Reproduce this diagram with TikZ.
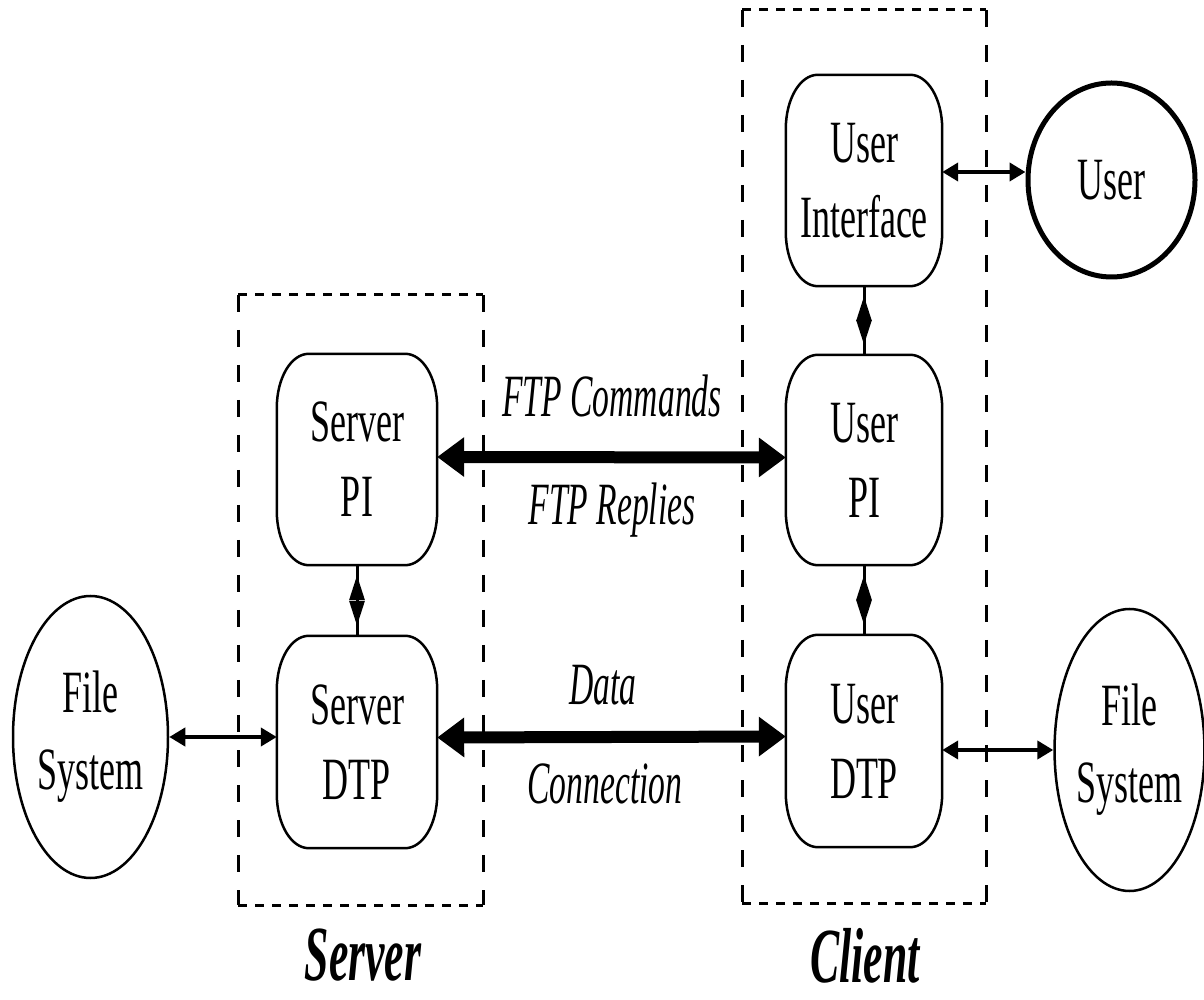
\documentclass[tikz,border=0pt]{standalone}
\usepackage{fontspec}
\usetikzlibrary{arrows.meta,calc,shapes.geometric}
\newfontfamily\nodefont[FakeStretch=0.6]{Liberation Serif}
\newfontfamily\labfont[FakeStretch=0.56]{Liberation Serif}
\newfontfamily\bigfont[FakeStretch=0.56]{Liberation Serif}
\newcommand\ftpshape[1]{%
  \draw[boxline] ($(#1.north west)+(32,0)$) -- ($(#1.north east)+(-32,0)$)
    arc[start angle=90,end angle=0,x radius=32,y radius=54]
    -- ($(#1.south east)+(0,54)$)
    arc[start angle=0,end angle=-90,x radius=32,y radius=54]
    -- ($(#1.south west)+(32,0)$)
    arc[start angle=270,end angle=180,x radius=32,y radius=54]
    -- ($(#1.north west)+(0,-54)$)
    arc[start angle=180,end angle=90,x radius=32,y radius=54] -- cycle;}
\begin{document}
\begin{tikzpicture}[x=1pt,y=1pt,
  boxline/.style={line width=2.5pt},
  ftpbox/.style={draw=none,inner sep=0pt,align=center,
     font=\nodefont\fontsize{60pt}{75pt}\selectfont},
  oval/.style={ellipse,draw,inner sep=0pt,align=center,line width=2.5pt,
     font=\nodefont\fontsize{60pt}{77pt}\selectfont},
  lab/.style={anchor=base,inner sep=0pt,font=\labfont\itshape\fontsize{60pt}{72pt}\selectfont},
  sidelab/.style={anchor=base,inner sep=0pt,font=\bigfont\bfseries\itshape\fontsize{78pt}{90pt}\selectfont},
  hdash/.style={line width=3pt,dash pattern=on 9pt off 8pt},
  vdash/.style={line width=3pt,dash pattern=on 17pt off 18pt},
  bigarrow/.style={line width=12pt,{Triangle[length=27pt,width=38pt]}-{Triangle[length=27pt,width=38pt]}},
  smallarrow/.style={line width=4pt,{Triangle[length=16pt,width=18pt]}-{Triangle[length=16pt,width=18pt]}},
  vline/.style={line width=3pt},
  varrow/.style={line width=3pt,{Triangle[length=25pt,width=15pt]}-{Triangle[length=25pt,width=15pt]},
     shorten <=10pt,shorten >=10pt}
]
\useasboundingbox (0,0) rectangle (1204,999);
\fill[white] (0,0) rectangle (1204,999);

% dashed group boxes
\draw[hdash] (238,704) -- (483,704);
\draw[hdash] (238,94) -- (483,94);
\draw[vdash] (238,704) -- (238,94);
\draw[vdash] (483,704) -- (483,94);
\draw[hdash] (742,989) -- (986,989);
\draw[hdash] (742,96) -- (986,96);
\draw[vdash] (742,989) -- (742,96);
\draw[vdash] (986,989) -- (986,96);

% process boxes
\node[ftpbox,minimum width=160pt,minimum height=211pt] (spi) at (357,539.5) {Server\\PI};
\node[ftpbox,minimum width=160pt,minimum height=212pt] (sdtp) at (357,257) {Server\\DTP};
\node[ftpbox,minimum width=156pt,minimum height=211pt] (ui) at (864,818.5) {User\\Interface};
\node[ftpbox,minimum width=156pt,minimum height=210pt] (upi) at (864,539) {User\\PI};
\node[ftpbox,minimum width=156pt,minimum height=212pt] (udtp) at (864,258) {User\\DTP};
\ftpshape{spi}
\ftpshape{sdtp}
\ftpshape{ui}
\ftpshape{upi}
\ftpshape{udtp}

% ellipses
\node[oval,line width=5pt,minimum width=167pt,minimum height=194pt] (user) at (1111.5,819) {User};
\node[oval,minimum width=155pt,minimum height=282pt] (fsl) at (90.5,262) {File\\System};
\node[oval,minimum width=149pt,minimum height=282pt] (fsr) at (1129.5,249) {File\\System};

% connectors
\draw[bigarrow] ([yshift=2.5pt]spi.east) -- ([yshift=2.5pt]upi.west);
\draw[bigarrow] ([yshift=4.5pt]sdtp.east) -- ([yshift=4.5pt]udtp.west);
\draw[smallarrow] (fsl.east) -- (fsl.east -| sdtp.west);
\draw[smallarrow] (fsr.west -| udtp.east) -- (fsr.west);
\draw[smallarrow] ([yshift=8.5pt]ui.east) -- ([yshift=8.5pt]ui.east -| user.west);

\draw[vline] (spi.south) -- (sdtp.north);
\draw[varrow] (spi.south) -- (sdtp.north);
\draw[vline] (ui.south) -- (upi.north);
\draw[varrow] (ui.south) -- (upi.north);
\draw[vline] (upi.south) -- (udtp.north);
\draw[varrow] (upi.south) -- (udtp.north);

% labels
\node[lab] (cmd) at (612,582) {FTP Commands};
\node[lab] (rep) at (612,474) {FTP Replies};
\node[lab] (data) at (603,294) {Data};
\node[lab] (conn) at (605,196) {Connection};
\node[sidelab] (slab) at (363,19) {Server};
\node[sidelab] (clab) at (865,17) {Client};
\end{tikzpicture}
\end{document}
